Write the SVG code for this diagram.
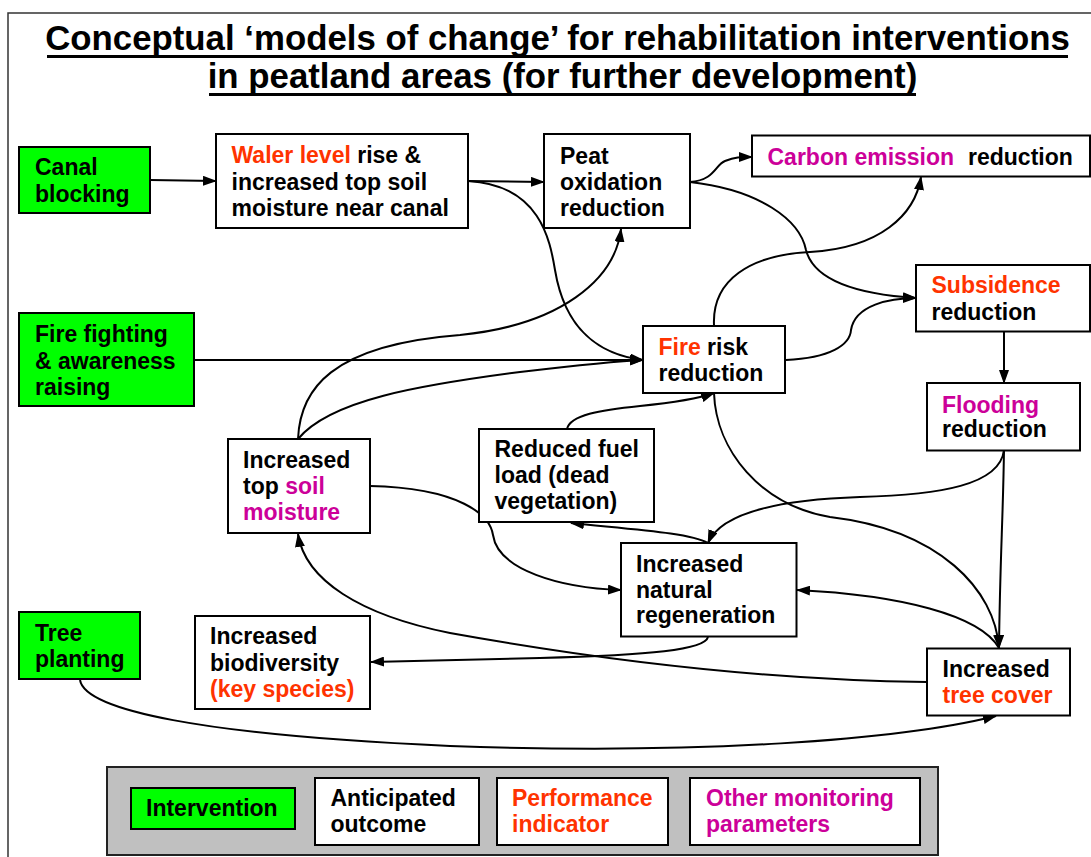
<svg xmlns="http://www.w3.org/2000/svg" width="1091" height="857" viewBox="0 0 1091 857">
<style>
text{font-family:"Liberation Sans",Arial,sans-serif;font-weight:bold;font-size:23px;fill:#000}
.title{font-size:34.8px;text-anchor:middle}
.box{fill:#fff;stroke:#000;stroke-width:2}
.int{fill:#00ff00;stroke:#000;stroke-width:2}
.o{fill:#ff3300}
.m{fill:#cc0099}
.c{fill:none;stroke:#000;stroke-width:2}
</style>
<defs>
<marker id="ah" viewBox="0 0 14 10" refX="13" refY="5" markerWidth="14" markerHeight="10" markerUnits="userSpaceOnUse" orient="auto">
<path d="M0,0 L14,5 L0,10 Z" fill="#000"/>
</marker>
</defs>
<rect x="0" y="0" width="1091" height="857" fill="#fff"/>
<rect x="8" y="13" width="1110" height="900" fill="none" stroke="#333" stroke-width="1.5"/>
<g id="title">
<text class="title" x="557.5" y="50">Conceptual ‘models of change’ for rehabilitation interventions</text>
<line x1="47" y1="56.5" x2="1068" y2="56.5" stroke="#000" stroke-width="3"/>
<text class="title" x="562.5" y="88">in peatland areas (for further development)</text>
<line x1="209" y1="94.5" x2="916" y2="94.5" stroke="#000" stroke-width="3"/>
</g>
<g id="connectors">
<path class="c" d="M150,180 L216,181" marker-end="url(#ah)"/>
<path class="c" d="M468,181 L544,182" marker-end="url(#ah)"/>
<path class="c" d="M468,181 C540,185 550,240 555,270 C565,330 600,355 643,360" marker-end="url(#ah)"/>
<path class="c" d="M194,360 L643,360" marker-end="url(#ah)"/>
<path class="c" d="M690,182 C715,180 715,165 725,161 C735,157 740,157 752,157" marker-end="url(#ah)"/>
<path class="c" d="M690,182 C760,190 800,220 806,250 C815,285 870,295 916,298" marker-end="url(#ah)"/>
<path class="c" d="M714,325 C712,280 750,255 810,252 C880,248 915,215 921,177" marker-end="url(#ah)"/>
<path class="c" d="M786,360 C830,358 850,345 851,330 C855,305 890,298 916,298" marker-end="url(#ah)"/>
<path class="c" d="M1004,331 L1004,383" marker-end="url(#ah)"/>
<path class="c" d="M298,439 C300,390 330,345 460,335 C560,325 615,280 621,229" marker-end="url(#ah)"/>
<path class="c" d="M298,439 C330,400 420,385 520,372 C580,365 620,361 643,360" marker-end="url(#ah)"/>
<path class="c" d="M370,486 C460,488 490,515 493,535 C498,570 560,588 621,590" marker-end="url(#ah)"/>
<path class="c" d="M567,429 C570,415 600,410 640,406 C680,402 700,398 714,393" marker-end="url(#ah)"/>
<path class="c" d="M714,393 C716,450 760,505 830,517 C940,530 995,590 999,648" marker-end="url(#ah)"/>
<path class="c" d="M1004,450 C1003,520 1000,560 999,648" marker-end="url(#ah)"/>
<path class="c" d="M1004,450 C1000,485 940,495 860,497 C770,500 720,515 708,543" marker-end="url(#ah)"/>
<path class="c" d="M708,543 C690,533 640,530 571,523" marker-end="url(#ah)"/>
<path class="c" d="M999,648 C980,615 900,595 797,590" marker-end="url(#ah)"/>
<path class="c" d="M708,637 C705,650 650,655 540,658 C450,660 400,661 371,662" marker-end="url(#ah)"/>
<path class="c" d="M927,682 C760,680 600,660 450,633 C360,615 305,580 298,534" marker-end="url(#ah)"/>
<path class="c" d="M80,680 C85,710 200,735 450,746 C700,755 900,740 996,716" marker-end="url(#ah)"/>
</g>
<g id="canal">
<rect class="int" x="19" y="147" width="131" height="66"/>
<text x="35" y="175">Canal</text>
<text x="35" y="201.5">blocking</text>
</g>
<g id="fire-fighting">
<rect class="int" x="19" y="313" width="175" height="93"/>
<text x="35" y="341.5">Fire fighting</text>
<text x="35" y="368.5">&amp; awareness</text>
<text x="35" y="395">raising</text>
</g>
<g id="tree-planting">
<rect class="int" x="19" y="612" width="121" height="67"/>
<text x="35" y="640.5">Tree</text>
<text x="35" y="667">planting</text>
</g>
<g id="water-level">
<rect class="box" x="216" y="134" width="252" height="94"/>
<text x="231.5" y="162.5"><tspan class="o">Waler level</tspan> rise &amp;</text>
<text x="231.5" y="189.5">increased top soil</text>
<text x="231.5" y="216">moisture near canal</text>
</g>
<g id="peat">
<rect class="box" x="544" y="134" width="146" height="94"/>
<text x="560" y="164">Peat</text>
<text x="560" y="190">oxidation</text>
<text x="560" y="216">reduction</text>
</g>
<g id="carbon">
<rect class="box" x="752" y="135.5" width="338" height="41"/>
<text x="767.5" y="165" class="m">Carbon emission</text>
<text x="968" y="165">reduction</text>
</g>
<g id="subsidence">
<rect class="box" x="916" y="265" width="174" height="66.5"/>
<text x="931.5" y="292.5" class="o">Subsidence</text>
<text x="931.5" y="319.5">reduction</text>
</g>
<g id="fire-risk">
<rect class="box" x="643" y="326" width="142" height="67"/>
<text x="658.5" y="355"><tspan class="o">Fire</tspan> risk</text>
<text x="658.5" y="380.5">reduction</text>
</g>
<g id="flooding">
<rect class="box" x="927" y="383" width="153" height="67.5"/>
<text x="942" y="413" class="m">Flooding</text>
<text x="942" y="437">reduction</text>
</g>
<g id="soil-moisture">
<rect class="box" x="228" y="439" width="142" height="94"/>
<text x="243" y="468">Increased</text>
<text x="243" y="494">top <tspan class="m">soil</tspan></text>
<text x="243" y="520" class="m">moisture</text>
</g>
<g id="fuel-load">
<rect class="box" x="479" y="429" width="175" height="93"/>
<text x="494.5" y="457">Reduced fuel</text>
<text x="494.5" y="482.5">load (dead</text>
<text x="494.5" y="508.5">vegetation)</text>
</g>
<g id="natural-regeneration">
<rect class="box" x="621" y="543" width="175.5" height="93.5"/>
<text x="636" y="571.5">Increased</text>
<text x="636" y="597.5">natural</text>
<text x="636" y="622.5">regeneration</text>
</g>
<g id="biodiversity">
<rect class="box" x="195" y="616" width="175" height="93"/>
<text x="210" y="644">Increased</text>
<text x="210" y="670.5">biodiversity</text>
<text x="210" y="697" class="o">(key species)</text>
</g>
<g id="tree-cover">
<rect class="box" x="927" y="648.5" width="143" height="67"/>
<text x="942.5" y="676.5">Increased</text>
<text x="942.5" y="703" class="o">tree cover</text>
</g>
<g id="legend">
<rect x="107" y="767" width="831" height="88" fill="#c0c0c0" stroke="#222" stroke-width="2"/>
<rect class="int" x="131" y="788" width="164" height="41"/>
<text x="146" y="816">Intervention</text>
<rect class="box" x="315" y="778" width="164" height="67"/>
<text x="330.5" y="805.5">Anticipated</text>
<text x="330.5" y="831.5">outcome</text>
<rect class="box" x="497" y="778" width="171" height="67"/>
<text x="512" y="805.5" class="o">Performance</text>
<text x="512" y="831.5" class="o">indicator</text>
<rect class="box" x="690" y="778" width="230" height="67"/>
<text x="706" y="805.5" class="m">Other monitoring</text>
<text x="706" y="831.5" class="m">parameters</text>
</g>
</svg>
